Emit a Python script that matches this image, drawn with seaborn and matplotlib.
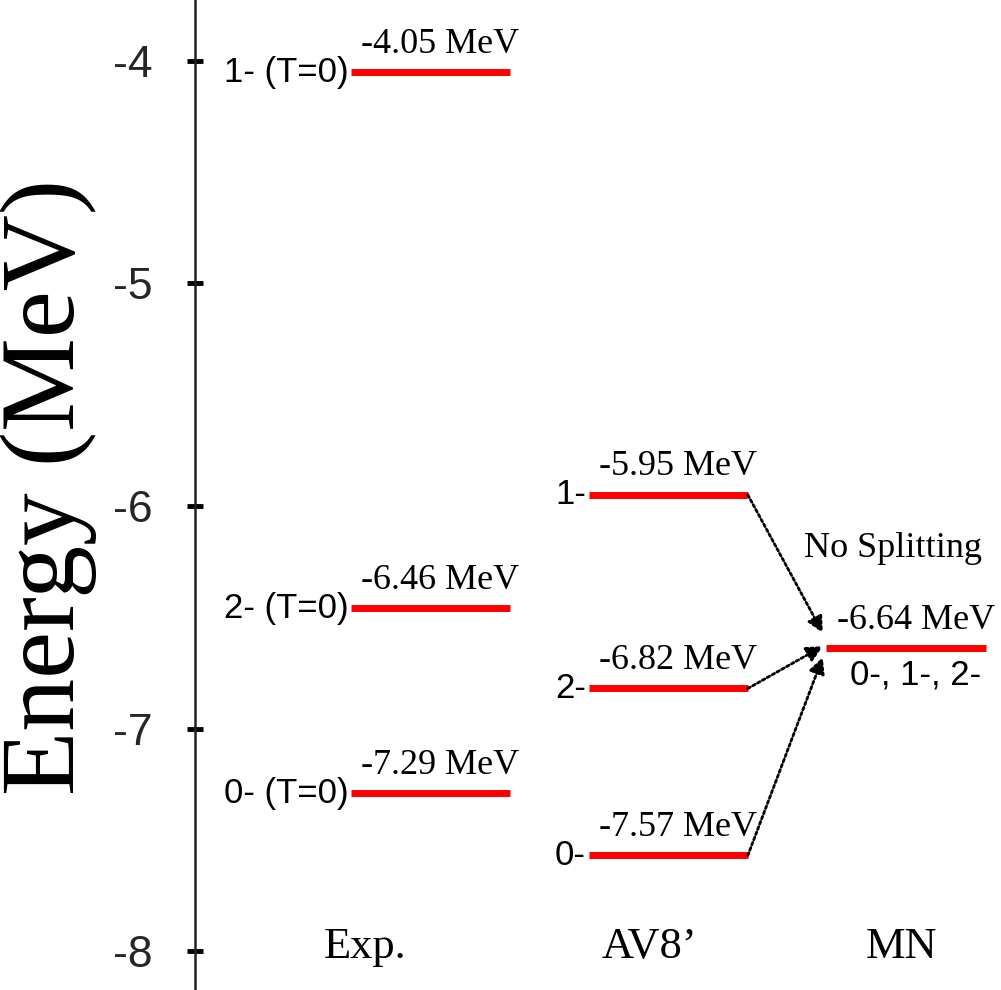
import matplotlib
matplotlib.use("Agg")
import matplotlib.pyplot as plt
import seaborn as sns
import pandas as pd

# ---------------- data ----------------
columns = ["Exp.", "AV8\u2019", "MN"]
exp_levels = [-4.05, -6.46, -7.29]
exp_states = ["1- (T=0)", "2- (T=0)", "0- (T=0)"]
av8_levels = [-5.95, -6.82, -7.57]
av8_states = ["1-", "2-", "0-"]
mn_levels = [-6.64]
mn_states = ["0-, 1-, 2-"]
y_ticks = [-8, -7, -6, -5, -4]
note_text = "No Splitting"

# ---------------- style ----------------
sns.set_theme(style="white")
SERIF = ["Liberation Serif", "DejaVu Serif"]
SANS = ["Liberation Sans", "DejaVu Sans"]
plt.rcParams["font.family"] = SANS
plt.rcParams["lines.solid_capstyle"] = "butt"

HW = 0.335  # half width of a level line (in column units)

rows = []
for ci, (levels, states) in enumerate([(exp_levels, exp_states),
                                       (av8_levels, av8_states),
                                       (mn_levels, mn_states)]):
    for li, (e, s) in enumerate(zip(levels, states)):
        for x in (ci - HW, ci + HW):
            rows.append({"col": ci, "level": f"{ci}-{li}", "x": x, "E": e, "state": s})
df = pd.DataFrame(rows)

fig = plt.figure(figsize=(10.01, 9.90), dpi=100)
ax = fig.add_axes([195 / 1001, 0.0, 1 - 195 / 1001, 1.0])

sns.lineplot(data=df, x="x", y="E", units="level", estimator=None,
             color="#ff0000", lw=5, ax=ax, legend=False)

ax.set_xlim(-0.991, 2.400)
ax.set_ylim(-8.175, -3.726)

# level annotations
for ci, (levels, states) in enumerate([(exp_levels, exp_states),
                                       (av8_levels, av8_states),
                                       (mn_levels, mn_states)]):
    for e, s in zip(levels, states):
        ax.annotate(f"{e:.2f} MeV", xy=(ci, e), xytext=(7, 14),
                    textcoords="offset points", ha="center", va="baseline",
                    fontsize=26, family=SERIF, color="black")
        if ci < 2:
            ax.annotate(s, xy=(ci - HW, e), xytext=(-2, 0),
                        textcoords="offset points", ha="right", va="center",
                        fontsize=25, family=SANS, color="black")
        else:
            ax.annotate(s, xy=(ci, e), xytext=(7, -7),
                        textcoords="offset points", ha="center", va="top",
                        fontsize=25, family=SANS, color="black")

# arrows from AV8' levels to MN level
tip_dy = [0.07, 0.01, -0.04]
for e, dy in zip(av8_levels, tip_dy):
    ax.annotate("", xy=(2 - HW - 0.015, mn_levels[0] + dy), xytext=(1 + HW, e),
                arrowprops=dict(arrowstyle="-|>", linestyle=(0, (1, 1)), lw=2,
                                color="black", mutation_scale=24,
                                shrinkA=0, shrinkB=0))

ax.text(1.946, mn_levels[0] + 0.45, note_text, ha="center", va="center",
        fontsize=26, family=SERIF, color="black")

# column labels
for ci, (name, dx) in enumerate(zip(columns, [-0.276, -0.077, -0.02])):
    ax.text(ci + dx, -8.03, name, ha="center", va="baseline",
            fontsize=32, family=SERIF, color="black")

# axes styling
for side in ["top", "right", "bottom"]:
    ax.spines[side].set_visible(False)
ax.spines["left"].set_color("#222222")
ax.spines["left"].set_linewidth(1.8)
ax.set_xticks([])
ax.set_yticks(y_ticks)
ax.set_yticklabels([str(t) for t in y_ticks], family=SANS, fontsize=32)
ax.tick_params(axis="y", direction="inout", length=11, width=3.5, pad=25,
               color="black", left=True)
ax.set_xlabel("")
ax.set_ylabel("Energy (MeV)", family=SERIF, fontsize=76, color="black")
ax.yaxis.set_label_coords(-0.182, 0.508)
ax.yaxis.label.set_verticalalignment("center")

fig.savefig("out.png", dpi=100)
